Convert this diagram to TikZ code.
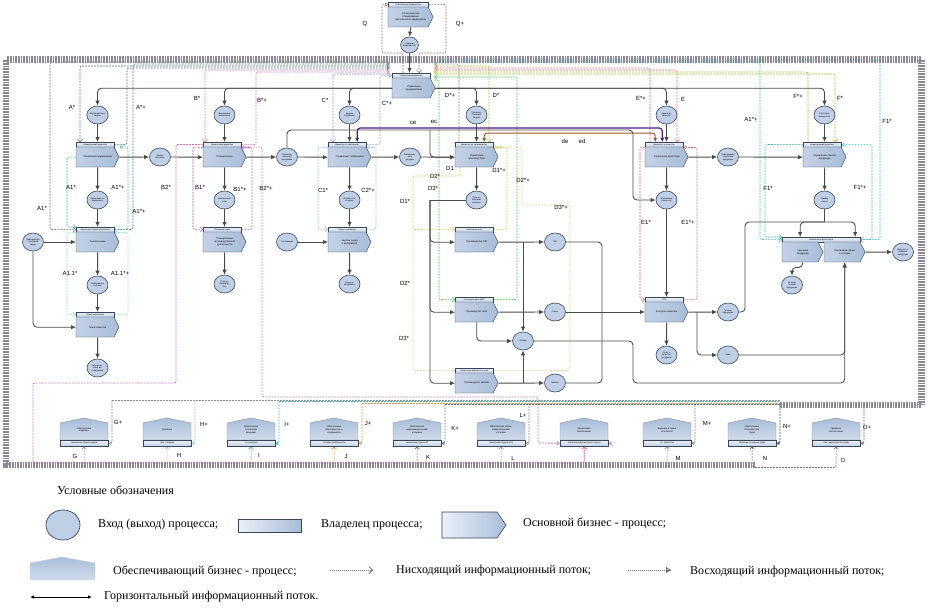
\documentclass[tikz,border=0pt]{standalone}
\usepackage{fontspec}
\setmainfont{Liberation Sans}
\newfontfamily\lgfont{Liberation Serif}
\usetikzlibrary{arrows.meta,shapes.geometric}
\pgfdeclarelayer{bg}
\pgfsetlayers{bg,main}
\definecolor{boxA}{HTML}{EAF0F8}
\definecolor{boxB}{HTML}{A9BDD9}
\definecolor{edgeC}{HTML}{3A4658}
\definecolor{circF}{HTML}{BFCFE6}
\definecolor{lineC}{HTML}{4A4A4A}
\definecolor{slateC}{HTML}{4E6A72}
\definecolor{tealC}{HTML}{2FB8A8}
\definecolor{cyanC}{HTML}{8FDDE0}
\definecolor{pinkC}{HTML}{E070B0}
\definecolor{magC}{HTML}{B45CC8}
\definecolor{lilacC}{HTML}{8C84E0}
\definecolor{bgreyC}{HTML}{8AA0C0}
\definecolor{lblueC}{HTML}{9CC0E6}
\definecolor{yelC}{HTML}{D6C63A}
\definecolor{ygC}{HTML}{A6BE2E}
\definecolor{grnC}{HTML}{2ECC3A}
\definecolor{lyelC}{HTML}{D4D096}
\definecolor{redC}{HTML}{E06464}
\definecolor{brownC}{HTML}{A0522D}
\definecolor{purpC}{HTML}{4B1C8C}
\definecolor{orangeC}{HTML}{E8903A}
\definecolor{greyC}{HTML}{8C8C8C}
\definecolor{dgreyC}{HTML}{4A5058}
\definecolor{qC}{HTML}{8A6A66}
\definecolor{frameC}{HTML}{8E8698}
\tikzset{
  hdr/.style={draw=edgeC, line width=0.45pt, top color=boxA, bottom color=boxB!70, minimum height=5pt, inner sep=0pt, anchor=north west, font=\fontsize{2.1}{2.4}\selectfont},
  bodyt/.style={minimum height=20pt, inner sep=0pt, anchor=north west, text width=31pt, align=center, font=\fontsize{2.4}{2.8}\selectfont},
  circ/.style={ellipse, draw=edgeC, line width=0.6pt, fill=circF, minimum width=21pt, minimum height=18pt, inner sep=0pt, align=center, font=\fontsize{2.1}{2.5}\selectfont},
  stxt/.style={inner sep=0pt, align=center, text width=40pt, font=\fontsize{2.3}{2.7}\selectfont},
  flow/.style={draw=lineC, line width=0.9pt, rounded corners=4pt},
  fa/.style={flow, -{Latex[length=5pt,width=4.5pt]}},
  dsh/.style={line width=0.6pt, dash pattern=on 1.8pt off 1.2pt, rounded corners=2pt},
  dn/.style={dsh, draw=#1, -{Straight Barb[length=2.5pt,width=5pt,line width=0.5pt]}},
  up/.style={dsh, draw=#1, -{Triangle[open,length=3pt,width=4pt,line width=0.5pt]}},
  hz/.style={draw=#1, line width=1.2pt, rounded corners=3pt, {Latex[length=4pt,width=4pt]}-{Latex[length=4pt,width=4pt]}},
  lbl/.style={inner sep=0pt, font=\fontsize{6}{7}\selectfont},
  lg/.style={inner sep=0pt, anchor=west, font=\lgfont\fontsize{12}{14}\selectfont},
  lgar/.style={draw=black!55, line width=0.6pt, dash pattern=on 1pt off 1pt},
}
\newcommand\mbody[5]{%
  \path[draw=edgeC, line width=0.45pt, left color=boxA!40!boxB, right color=boxB] (#2,#3) -- (#2+#4,#3) -- (#2+#4+5,#3+10) -- (#2+#4,#3+20) -- (#2,#3+20) -- cycle;
  \node[bodyt, minimum width=#4pt+5pt] (#1) at (#2,#3) {#5};}
\newcommand\mproc[6]{%
  \node[hdr, minimum width=#4pt] (#1h) at (#2,#3) {#5};
  \mbody{#1}{#2}{#3+5}{#4}{#6}}
\newcommand\sproc[6]{%
  \path[draw=edgeC!60, line width=0.4pt, top color=boxB, bottom color=boxA!60!boxB] (#2,440) -- (#2,423) -- (#2+24,418) -- (#2+48,423) -- (#2+48,440) -- cycle;
  \node[stxt] (#1) at (#2+24,430) {#3};
  \node[hdr, minimum width=48pt, minimum height=6pt, font=\fontsize{2.2}{2.5}\selectfont] (#1b) at (#2,440) {#4};
  \begin{pgfonlayer}{bg}
  \draw[dn=#5] (#2+24,467) -- (#1b.south);
  \draw[up=#5] (#2+52,#6) |- (#1b.east);
  \end{pgfonlayer}}
\begin{document}
\begin{tikzpicture}[x=1pt,y=-1pt]
\useasboundingbox (0,0) rectangle (929,611);
% ---------- frame
\draw[line width=6.5pt, draw=frameC, dash pattern=on .8pt off .8pt] (755,465) -- (6,465) -- (6,59.5) -- (921.5,59.5) -- (921.5,405) -- (780,405);
% ---------- main processes
\mproc{Q}{388}{2}{40}{Собственник предприятия}{Стратегическое планирование\\деятельности предприятия}
\node[circ, minimum width=17pt, minimum height=16pt] (qc) at (409.5,45) {Стратегия\\предприятия};
\mproc{T}{392}{73}{38}{Генеральный директор}{Управление\\предприятием}
\mproc{A}{76}{142}{38}{Коммерческий директор}{Управление маркетингом}
\mproc{B}{203}{142}{38}{Финансовый директор}{Планирование}
\mproc{C}{328}{142}{38}{Директор по снабжению}{Управление снабжением}
\mproc{D}{455}{142}{38}{Директор по производству}{Управление производством}
\mproc{E}{645}{142}{38}{Директор по качеству}{Управление качеством}
\mproc{F}{803}{142}{38}{Коммерческий директор}{Управление сбытом\\продукции}
\mproc{A1}{76}{227}{38}{Начальник отдела маркетинга}{Анализ рынка}
\mproc{A11}{76}{312}{38}{Отдел маркетинга}{Поиск клиентов}
\mproc{B1}{203}{227}{38}{Плановый отдел}{Планирование\\производственной\\деятельности}
\mproc{C1}{328}{227}{38}{Отдел снабжения}{Закупка сырья\\и материалов}
\mproc{D1}{455}{227}{38}{Начальник цеха}{Производство ПМ}
\mproc{D2}{455}{297}{38}{Начальник цеха ДВП}{Производство плит}
\mproc{D3}{455}{368}{38}{Начальник мебельного цеха}{Производство мебели}
\mproc{E1}{645}{297}{38}{ОТК}{Контроль качества}
\node[hdr, minimum width=78pt] (F1h) at (782,237) {Начальник отдела сбыта};
\mbody{F1a}{782}{242}{36}{Хранение\\продукции}
\mbody{F1b}{824}{242}{36}{Реализация брака\\и отходов}
% ---------- circles
\node[circ] (a0) at (97.5,115) {Маркетинговые\\задачи};
\node[circ] (b0) at (224.5,115) {Финансовые\\показатели};
\node[circ] (c0) at (349.5,115) {Задачи\\снабжения};
\node[circ] (d0) at (476.5,115) {Производ-\\ственные\\задачи};
\node[circ] (e0) at (666.5,115) {Задачи по\\качеству};
\node[circ] (f0) at (824.5,115) {Сбытовые\\показатели};
\node[circ] (ab) at (160,157) {Заказы\\клиентов};
\node[circ] (bc) at (287,157) {Производ-\\ственная\\программа};
\node[circ] (cd) at (410,157) {Материаль-\\ные\\ресурсы};
\node[circ] (ef) at (728,157) {Информация\\о качестве\\продукции};
\node[circ] (a1) at (97.5,200) {Программа по\\маркетингу};
\node[circ] (b1) at (224.5,200) {Финансовый\\план};
\node[circ] (c1) at (349.5,200) {Потребность\\в сырье};
\node[circ] (d1) at (476.5,200) {План по\\объемам\\выпуска};
\node[circ] (e1) at (666.5,200) {Требования\\к качеству};
\node[circ] (f1) at (824.5,200) {График\\сбыта};
\node[circ] (lin) at (33,242) {Информация\\о внешней\\среде};
\node[circ] (a2) at (97.5,285) {Информация\\о рынке};
\node[circ] (a3) at (97.5,368) {Маркетин-\\говые ис-\\следования};
\node[circ] (b2) at (224.5,284) {План по\\производ-\\ству};
\node[circ] (sup) at (287,242) {Поставщики};
\node[circ] (c2) at (349.5,284) {Сырье и\\материалы};
\node[circ] (pm) at (555,242) {ПМ};
\node[circ] (pl) at (555,312) {Плиты};
\node[circ] (mb) at (555,383) {Мебель};
\node[circ] (ot) at (523,341) {Отходы};
\node[circ] (e2) at (666.5,355) {Отчет о\\качестве\\продукции};
\node[circ] (gp) at (728,312) {Готовая\\продукция};
\node[circ] (br) at (728,355) {Брак};
\node[circ] (f2) at (792,285) {Остатки\\готовой\\продукции};
\node[circ] (out) at (903,252) {Выручка от\\продажи\\продукции};
% ---------- support processes
\sproc{G}{60}{Обеспечение\\кадрами}{Начальник отдела кадров}{greyC}{400}
\sproc{H}{143}{Хранение}{Зав. складом}{lblueC}{400}
\sproc{I}{227}{Обеспечение\\основными\\фондами}{Гл. инженер}{tealC}{401.5}
\sproc{J}{310}{Обеспечение\\безопасности и\\сохранности}{Служба безопасности}{orangeC}{403}
\sproc{K}{393}{Обеспечение\\информационными\\услугами}{Начальник отдела ИТ}{slateC}{404.5}
\sproc{L}{477}{Обеспечение связи,\\коммунальными\\услугами}{Начальник отдела АХЧ}{greyC}{400}
\sproc{P}{560}{Финансовое\\обеспечение}{Начальник финансового отдела}{pinkC}{447}
\sproc{M}{643}{Ведение и сдача\\отчетности}{Гл. бухгалтер}{greyC}{405}
\sproc{N}{728}{Обеспечение\\безопасности\\труда}{Инженер по охране труда}{dgreyC}{405}
\sproc{O}{812}{Правовое\\обеспечение}{Зам. директора по праву}{qC}{405}
% ---------- solid flows
\draw[fa] (Q.south) -- (qc.north);
\draw[fa] (qc.south) -- (qc.south |- Th.north);
\foreach \c in {a0,b0,c0} \draw[fa] (T.west) -| (\c.north);
\foreach \c in {d0,e0,f0} \draw[fa] (T.east) -| (\c.north);
\foreach \c/\X in {a0/A,b0/B,c0/C,d0/D,e0/E,f0/F} \draw[fa] (\c.south) -- (\c.south |- \X h.north);
\foreach \X/\c in {A/a1,B/b1,C/c1,D/d1,E/e1,F/f1} \draw[fa] (\X.south) -- (\c.north);
\foreach \c/\X in {a1/A1,b1/B1,c1/C1,a2/A11,e1/E1} \draw[fa] (\c.south) -- (\c.south |- \X h.north);
\foreach \X/\c in {A1/a2,A11/a3,B1/b2,C1/c2,E1/e2} \draw[fa] (\X.south) -- (\c.north);
\draw[fa] (A.east) -- (ab.west);
\draw[fa] (ab.east) -- (B.west);
\draw[fa] (B.east) -- (bc.west);
\draw[fa] (bc.east) -- (C.west);
\draw[fa] (C.east) -- (cd.west);
\draw[fa] (cd.east) -- (D.west);
\draw[fa] (E.east) -- (ef.west);
\draw[fa] (ef.east) -- (F.west);
\draw[fa] (bc.north) |- (633,130) |- (e1.west);
\coordinate (jD) at (430,130);
\draw[fa] (jD) |- (D.west);
\draw[fa] (lin.east) -- (lin.east -| A1.west);
\draw[fa] (lin.south) |- (A11.west);
\draw[fa] (sup.east) -- (sup.east -| C1.west);
\coordinate (jd) at (430,200);
\draw[flow] (d1.west) -- (jd);
\draw[fa] (jd) |- (D1.west);
\draw[fa] (jd) |- (D2.west);
\draw[fa] (jd) |- (D3.west);
\draw[fa] (D1.east) -- (pm.west);
\draw[fa] (D2.east) -- (pl.west);
\draw[fa] (D3.east) -- (mb.west);
\draw[fa] (ot.north |- D1.east) -- (ot.north);
\draw[fa] (D2.south) |- (ot.west);
\draw[fa] (ot.south |- D3.east) -- (ot.south);
\coordinate (jB) at (602,312);
\draw[flow] (pm.east) -| (jB);
\draw[flow] (mb.east) -| (jB);
\draw[fa] (pl.east) -- (pl.east -| E1.west);
\draw[fa] (E1.east) -- (gp.west);
\coordinate (jE) at (697,312);
\draw[fa] (jE) |- (br.west);
\coordinate (fb) at (824.5,222);
\draw[flow] (f1.south) -- (fb);
\draw[fa] (fb) -| ([xshift=-21pt]F1h.north);
\draw[fa] (fb) -| ([xshift=34pt]F1h.north);
\draw[flow] (gp.east) -| (745,222) -- (fb);
\draw[fa] (F1a.south) -- ++(0,5) -| (f2.north);
\draw[fa] (F1b.east) -- (out.west);
\draw[fa] (br.east) -| (F1b.south);
\draw[fa] (ot.east) -| (633,383) -| (F1b.south);
% horizontal flows
\draw[hz=purpC] ([xshift=10pt]Ch.north) -- ++(0,-14) -| ([xshift=-2pt]Eh.north);
\draw[hz=brownC, line width=1pt] ([xshift=10pt]Dh.north) -- ++(0,-9) -| ([xshift=-9pt]Eh.north);
% ---------- dashed information flows
\begin{pgfonlayer}{bg}
\draw[up=qC] (403,73) -- (403,53) -| (382,4.5) -- (Qh.west);
\draw[dn=qC] (Qh.east) -- (446,4.5) |- (419,53) -- (419,73);
\draw[dn=slateC] (390,62) -| (50,229.5) -- (A1h.west);
\draw[up=slateC] (A1h.east) -- (133,229.5) |- (390,64);
\draw[dn=slateC] (390,66) -| (80,142);
\draw[up=slateC] (Ah.east) -- (127,144.5) |- (390,68);
\draw[dn=tealC] (A.west) -- (67,157) -- (67,227) -- (A1h.north west);
\draw[up=tealC] (A1h.east) -- (128,229.5) |- (A.north east);
\draw[dn=cyanC] (A1h.south west) -- (67,232) -- (67,314.5) -- (A11h.west);
\draw[up=cyanC] (A11h.east) -- (128,314.5) |- (A1h.south east);
\draw[dn=pinkC] (390,70) -| (205,142);
\draw[up=pinkC] (Bh.east) -- (256,144.5) |- (390,72);
\draw[dn=magC] (Bh.south west) -- (193,147) -- (193,229.5) -- (B1h.west);
\draw[up=magC] (B1h.east) -- (252,229.5) |- (Bh.south east);
\draw[dn=pinkC, line width=0.9pt] (Bh.west) -- (176,144.5) -- (176,383) -- (33,383) -- (33,463) -| (Pb.south);
\draw[up=pinkC, line width=0.8pt] (B.north east) -- (262,147) -- (262,397) -| (538,443) -- (Pb.west);
\draw[dn=lilacC] (390,74) -| (333,142);
\draw[up=bgreyC] (Ch.east) -- (380,144.5) |- (Th.west);
\draw[dn=lblueC] (Ch.south west) -- (318,147) -- (318,229.5) -- (C1h.west);
\draw[up=lblueC] (C1h.east) -- (376,229.5) |- (Ch.south east);
\draw[up=greyC] (459,142) |- (434,64);
\draw[dn=ygC] (434,66) -| (489,142);
\draw[dn=yelC] (460,167) |- (413,176) -- (413,229.5) -- (D1h.west);
\draw[up=yelC] (D1h.east) -- (507,229.5) |- (Dh.south east);
\draw[dn=grnC] (434,80) -- (439,80) -- (439,299.5) -- (D2h.west);
\draw[up=grnC] (D2h.east) -- (517,299.5) |- (434,77);
\draw[dn=lyelC] (413,229.5) -- (413,370.5) -- (D3h.west);
\draw[up=lyelC] (D3h.east) -- (570,370.5) |- (522,205) |- (D.north east);
\draw[up=redC] (650,142) |- (434,68);
\draw[dn=redC] (434,70) -| (677,142);
\draw[dn=redC] (Eh.south west) -- (640,147) -- (640,299.5) -- (E1h.west);
\draw[up=redC] (E1h.east) -- (697,299.5) |- (Eh.south east);
\draw[up=ygC] (808,142) |- (434,72);
\draw[dn=ygC] (434,74) -| (835,142);
\draw[dn=tealC] (434,62) -| (760,239.5) -- (F1h.west);
\draw[dn=tealC] (434,60) -| (880,239.5) -- (F1h.east);
\draw[dn=tealC] (Fh.west) -- (765,144.5) -- (765,237) -- (F1h.north west);
\draw[up=tealC] (F1h.east) -- (872,239.5) |- (Fh.east);
\draw[dsh, draw=greyC] (112,400) -- (780,400);
\draw[dsh, draw=tealC] (279,401.5) -- (780,401.5);
\draw[dsh, draw=orangeC] (362,403) -- (780,403);
\draw[dsh, draw=slateC] (445,404.5) -- (780,404.5);
\draw[dsh, draw=qC] (755,467) -- (836,467);
\end{pgfonlayer}
% ---------- labels
\node[lbl] (q1) at (365,24) {Q};
\node[lbl] (q2) at (460,24) {Q+};
\node[lbl] (l1) at (72,107) {A*};
\node[lbl] (l2) at (141,107) {A*+};
\node[lbl] (l3) at (197,98) {B*};
\node[lbl] (l4) at (262,100) {B*+};
\node[lbl] (l5) at (325,100) {C*};
\node[lbl] (l6) at (387,103) {C*+};
\node[lbl] (l7) at (450,95) {D*+};
\node[lbl] (l8) at (496,95) {D*};
\node[lbl] (l9) at (641,98) {E*+};
\node[lbl] (l10) at (683,99) {E};
\node[lbl] (l11) at (798,96) {F*+};
\node[lbl] (l12) at (840,98) {F*};
\node[lbl] (l13) at (751,119) {A1*+};
\node[lbl] (l14) at (887,121) {F1*};
\node[lbl] (l15) at (413,123) {ce};
\node[lbl] (l16) at (434,122) {ec};
\node[lbl] (l17) at (565,141) {de};
\node[lbl] (l18) at (582,141) {ed};
\node[lbl] (l19) at (71,187) {A1*};
\node[lbl] (l20) at (118,187) {A1*+};
\node[lbl] (l21) at (139,211) {A1*+};
\node[lbl] (l22) at (42,208) {A1*};
\node[lbl] (l23) at (166,187) {B2*};
\node[lbl] (l24) at (200,187) {B1*};
\node[lbl] (l25) at (240,189) {B1*+};
\node[lbl] (l26) at (266,188) {B2*+};
\node[lbl] (l27) at (323,190) {C1*};
\node[lbl] (l28) at (368,190) {C2*+};
\node[lbl] (l29) at (450,168) {D1};
\node[lbl] (l30) at (435,176) {D2*};
\node[lbl] (l31) at (433,188) {D3*};
\node[lbl] (l32) at (405,201) {D1*};
\node[lbl] (l33) at (499,170) {D1*+};
\node[lbl] (l34) at (523,180) {D2*+};
\node[lbl] (l35) at (561,207) {D3*+};
\node[lbl] (l36) at (646,222) {E1*};
\node[lbl] (l37) at (688,222) {E1*+};
\node[lbl] (l38) at (768,188) {F1*};
\node[lbl] (l39) at (860,187) {F1*+};
\node[lbl] (l40) at (70,273) {A1.1*};
\node[lbl] (l41) at (120,273) {A1.1*+};
\node[lbl] (l42) at (405,283) {D2*};
\node[lbl] (l43) at (404,338) {D3*};
\node[lbl] (g1) at (75,456) {G};
\node[lbl] (g2) at (118,422) {G+};
\node[lbl] (h1) at (179,455) {H};
\node[lbl] (h2) at (204,424) {H+};
\node[lbl] (i1) at (259,455) {I};
\node[lbl] (i2) at (287,424) {I+};
\node[lbl] (j1) at (346,456) {J};
\node[lbl] (j2) at (368,423) {J+};
\node[lbl] (k1) at (428,457) {K};
\node[lbl] (k2) at (455,428) {K+};
\node[lbl] (m1) at (513,458) {L};
\node[lbl] (m2) at (523,415) {L+};
\node[lbl] (n1) at (678,458) {M};
\node[lbl] (n2) at (707,423) {M+};
\node[lbl] (o1) at (765,458) {N};
\node[lbl] (o2) at (787,426) {N+};
\node[lbl] (p1) at (843,460) {O};
\node[lbl] (p2) at (867,427) {O+};
% ---------- legend
\node[lg] (t0) at (57,490) {Условные обозначения};
\node[ellipse, draw=edgeC, line width=0.7pt, fill=circF, minimum width=34pt, minimum height=30pt] (e) at (63,525) {};
\node[lg] (t1) at (98,525) {Вход (выход) процесса;};
\node[draw=edgeC, line width=0.7pt, left color=boxA, right color=boxB, minimum width=63pt, minimum height=13pt, inner sep=0pt] (r) at (269.5,525.5) {};
\node[lg] (t2) at (321,525) {Владелец процесса;};
\path[draw=edgeC, line width=0.6pt, left color=boxA, right color=boxB] (442,512) -- (497,512) -- (506,525) -- (497,538) -- (442,538) -- cycle;
\node[lg] (t3) at (523,523) {Основной бизнес - процесс;};
\path[draw=boxB!70, line width=0.4pt, top color=boxB, bottom color=boxA!60!boxB] (30,580) -- (30,563) -- (62,557) -- (95,563) -- (95,580) -- cycle;
\node[lg] (t4) at (113,571) {Обеспечивающий бизнес - процесс;};
\coordinate (a1s) at (330,570);
\coordinate (a1e) at (373,570);
\draw[lgar] (a1s) -- (a1e);
\draw[draw=black!60, line width=0.8pt, -{Straight Barb[length=3.5pt,width=7pt,line width=0.8pt]}] ([xshift=-1pt]a1e) -- (a1e);
\node[lg] (t5) at (396,571) {Нисходящий информационный поток;};
\coordinate (a2s) at (628,570);
\coordinate (a2e) at (671,570);
\draw[lgar] (a2s) -- (a2e);
\draw[draw=black!60, line width=0.8pt, -{Triangle[open,length=5pt,width=6pt,line width=0.8pt]}] ([xshift=-1pt]a2e) -- (a2e);
\node[lg] (t6) at (690,572) {Восходящий информационный поток;};
\coordinate (a3s) at (30,597);
\coordinate (a3e) at (92,597);
\draw[black, line width=0.8pt, {Latex[length=4pt,width=3.5pt]}-{Latex[length=4pt,width=3.5pt]}] (a3s) -- (a3e);
\node[lg] (t7) at (104,597) {Горизонтальный информационный поток.};
\end{tikzpicture}
\end{document}
